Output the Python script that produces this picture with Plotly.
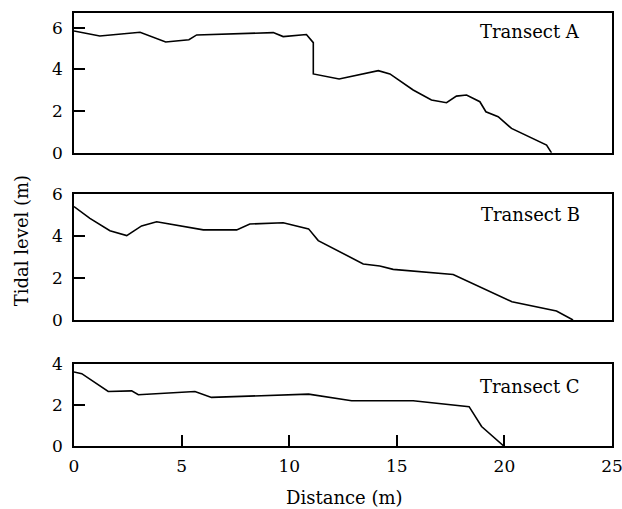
import plotly.graph_objects as go

# Transect A
xa = [0, 1.2, 3.07, 4.26, 5.34, 5.7, 9.26, 9.72, 10.8, 11.12, 11.12, 12.32, 14.14, 14.68, 15.76, 16.61, 17.31, 17.77, 18.24, 18.86, 19.14, 19.71, 20.33, 21.96, 22.19]
ya = [5.84, 5.6, 5.78, 5.31, 5.42, 5.65, 5.76, 5.57, 5.67, 5.28, 3.78, 3.54, 3.94, 3.78, 3.01, 2.53, 2.40, 2.72, 2.77, 2.45, 1.97, 1.73, 1.17, 0.37, 0.0]
# Transect B
xb = [0, 0.74, 1.67, 2.45, 3.14, 3.84, 6.01, 7.56, 8.17, 9.72, 10.9, 11.35, 13.44, 14.21, 14.83, 17.31, 17.62, 20.35, 22.42, 23.19]
yb = [5.40, 4.84, 4.25, 4.02, 4.48, 4.68, 4.29, 4.29, 4.57, 4.63, 4.34, 3.78, 2.67, 2.57, 2.41, 2.22, 2.17, 0.87, 0.43, 0.0]
# Transect C
xc = [0, 0.36, 1.59, 2.68, 2.99, 5.62, 6.39, 10.9, 12.9, 15.76, 18.36, 18.94, 19.97]
yc = [3.61, 3.53, 2.66, 2.69, 2.50, 2.66, 2.37, 2.53, 2.21, 2.21, 1.92, 0.95, 0.0]

labels = ["Transect A", "Transect B", "Transect C"]
x_ticks = [0, 5, 10, 15, 20, 25]

FONT = "DejaVu Serif"
fig = go.Figure()
line = dict(color="black", width=1.6)
fig.add_trace(go.Scatter(x=xa, y=ya, mode="lines", line=line, xaxis="x", yaxis="y", showlegend=False))
fig.add_trace(go.Scatter(x=xb, y=yb, mode="lines", line=line, xaxis="x2", yaxis="y2", showlegend=False))
fig.add_trace(go.Scatter(x=xc, y=yc, mode="lines", line=line, xaxis="x3", yaxis="y3", showlegend=False))

common_ax = dict(showline=True, linecolor="black", linewidth=1.6, mirror=True,
                 showgrid=False, zeroline=False, ticks="inside", ticklen=11,
                 tickcolor="black", tickwidth=1.5, automargin=False,
                 ticklabeloverflow="allow",
                 tickfont=dict(family=FONT, size=17))

fig.update_layout(
    width=622, height=509,
    margin=dict(l=74, r=10, t=13, b=63),
    paper_bgcolor="white", plot_bgcolor="white",
    font=dict(family=FONT, size=17, color="black"),
    xaxis=dict(**{**common_ax, "ticks": ""}, range=[0, 25], domain=[0, 1], anchor="y", showticklabels=False),
    yaxis=dict(**common_ax, range=[0, 6.7], domain=[0.677, 1], anchor="x", tickvals=[0, 2, 4, 6], ticklabelstandoff=6),
    xaxis2=dict(**{**common_ax, "ticks": ""}, range=[0, 25], domain=[0, 1], anchor="y2", showticklabels=False),
    yaxis2=dict(**common_ax, range=[0, 6], domain=[0.291, 0.582], anchor="x2", tickvals=[0, 2, 4, 6], ticklabelstandoff=6),
    xaxis3=dict(**common_ax, range=[0, 25], domain=[0, 1], anchor="y3", tickvals=x_ticks, ticklabelstandoff=4),
    yaxis3=dict(**common_ax, range=[0, 4], domain=[0, 0.1894], anchor="x3", tickvals=[0, 2, 4], ticklabelstandoff=6),
)

ann_pos = [("x domain", "y domain", 0.945, 0.87), ("x2 domain", "y2 domain", 0.945, 0.84), ("x3 domain", "y3 domain", 0.945, 0.72)]
for lab, (xr, yr, xx, yy) in zip(labels, ann_pos):
    fig.add_annotation(text=lab, xref=xr, yref=yr, x=xx, y=yy, xanchor="right", yanchor="middle",
                       showarrow=False, font=dict(family=FONT, size=18))

fig.add_annotation(text="Tidal level (m)", xref="paper", yref="paper", x=-0.0985, y=0.473,
                   textangle=-90, showarrow=False, xanchor="center", yanchor="middle",
                   font=dict(family=FONT, size=18))
fig.add_annotation(text="Distance (m)", xref="paper", yref="paper", x=0.502, y=-0.12,
                   showarrow=False, xanchor="center", yanchor="middle",
                   font=dict(family=FONT, size=18))

fig.write_html("out.html", config={"displayModeBar": False},
               post_script="document.body.style.margin='0';")
